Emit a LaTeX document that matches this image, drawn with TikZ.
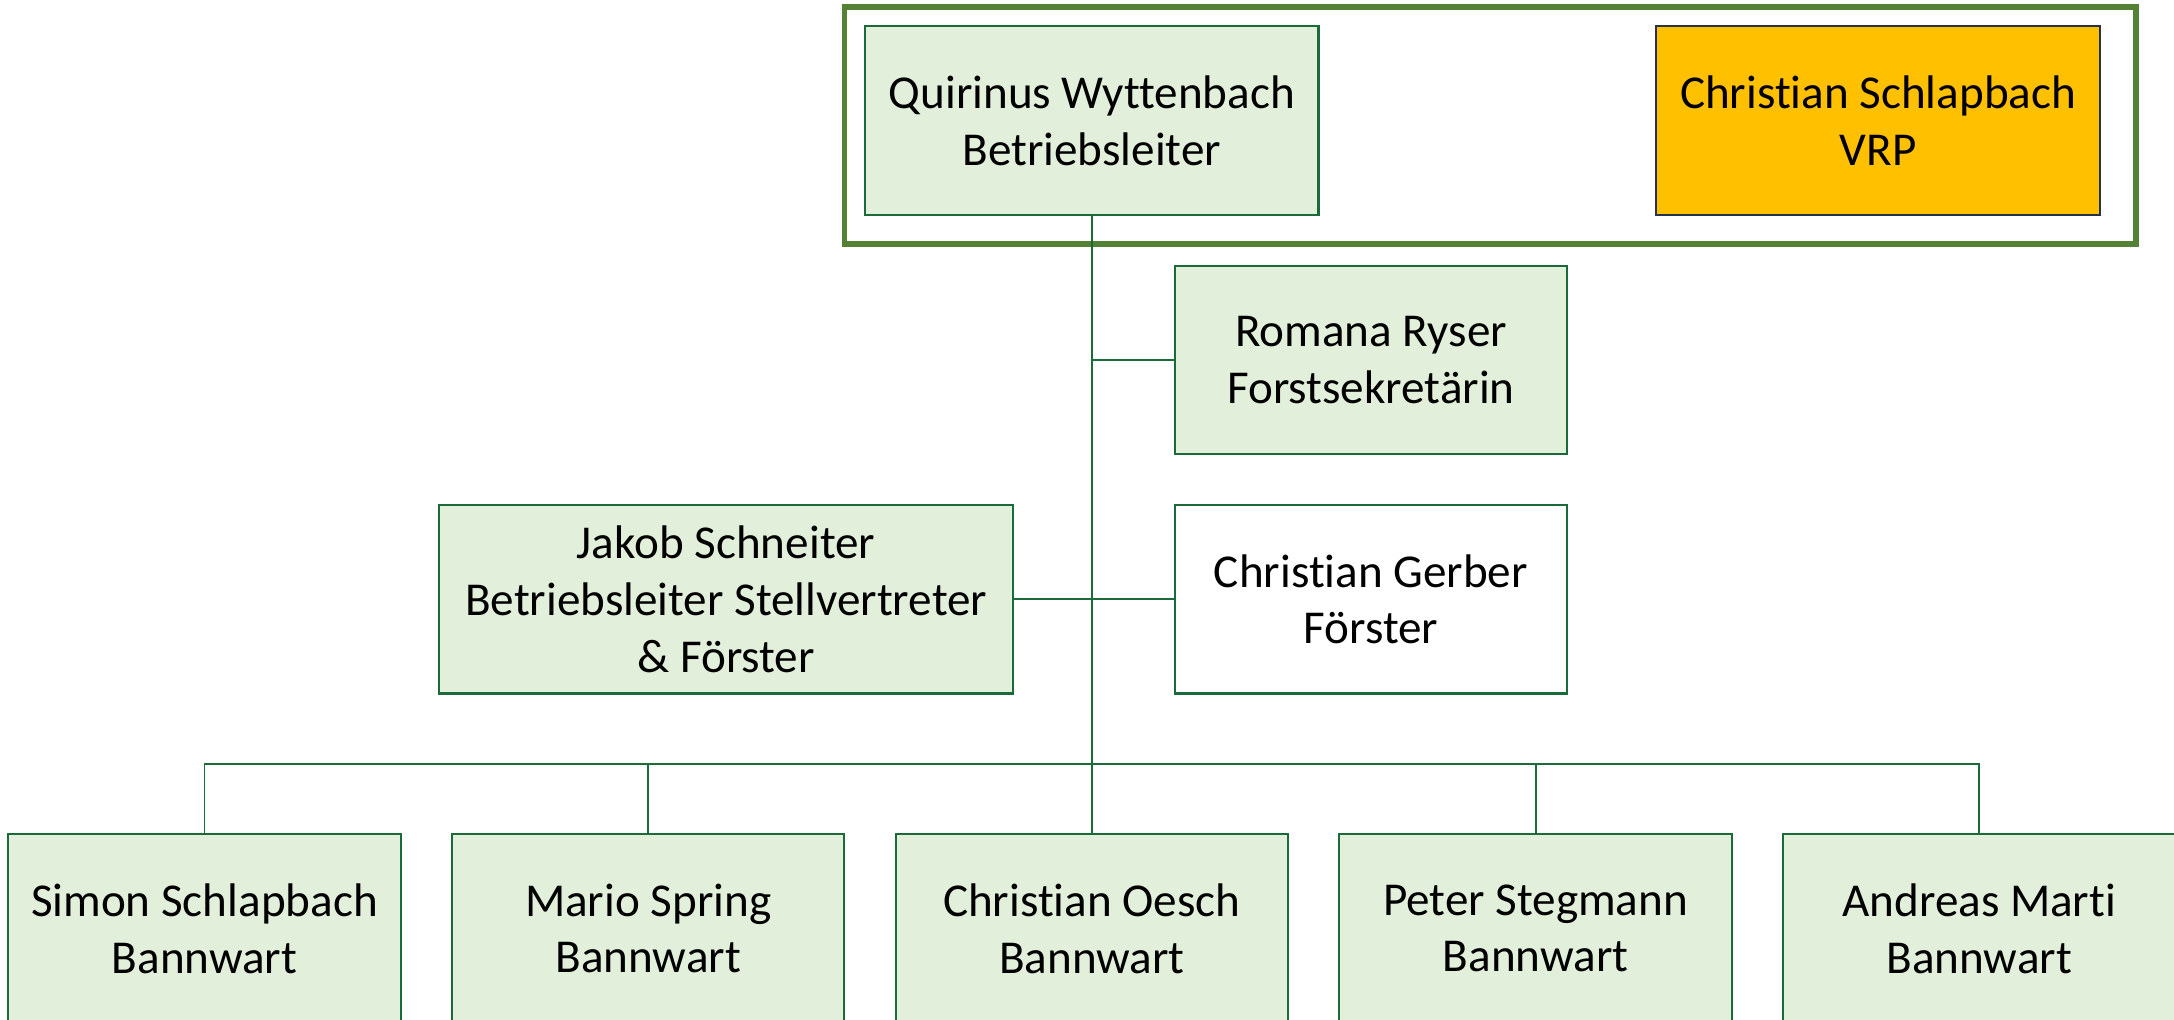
\documentclass[tikz,border=0pt]{standalone}
\usepackage{fontspec}
\setmainfont{Carlito}[Ligatures=NoCommon]
\usetikzlibrary{positioning}
\definecolor{boxfill}{HTML}{E2EFDA}
\definecolor{boxline}{HTML}{1B6B3A}
\definecolor{framegreen}{HTML}{548235}
\definecolor{vrpfill}{HTML}{FFC000}
\definecolor{vrpline}{HTML}{25324D}
\tikzset{
    person/.style={ % Kasten fuer eine Person
        draw=boxline,
        fill=boxfill,
        line width=0.8pt,
        align=center,
        minimum width=141.5pt,
        minimum height=68pt,
        inner sep=2pt,
        font=\fontsize{17}{20.5}\selectfont
    },
    conn/.style={draw=boxline,line width=0.7pt} % Verbindungslinien
}

\begin{document}
\begin{tikzpicture}[x=0.5pt,y=-0.5pt]
        \useasboundingbox (0,0) rectangle (1568,735);
        % Leitung
        \node[person,minimum width=163.5pt] (wyttenbach) at (787.5,87) {Quirinus Wyttenbach\\Betriebsleiter};
        \node[person,fill=vrpfill,draw=vrpline,minimum width=160pt,right=121pt of wyttenbach] (vrp) {Christian Schlapbach\\VRP};
        \draw[framegreen,line width=2pt] ([shift={(-7pt,6.5pt)}]wyttenbach.north west) rectangle ([shift={(12.5pt,-10pt)}]vrp.south east);
        % Stab und Foerster
        \node[person,anchor=north west] (ryser) at ([shift={(29.5pt,-17.5pt)}]wyttenbach.south) {Romana Ryser\\Forstsekretärin};
        \node[person,fill=white,below=17.5pt of ryser] (gerber) {Christian Gerber\\Förster};
        \node[person,minimum width=207pt,left=57.5pt of gerber] (schneiter) {Jakob Schneiter\\Betriebsleiter Stellvertreter\\\& Förster};
        % Bannwarte
        \node[person,below=222.5pt of wyttenbach] (oesch) {Christian Oesch\\Bannwart};
        \node[person,left=17.7pt of oesch] (spring) {Mario Spring\\Bannwart};
        \node[person,left=17.7pt of spring] (simon) {Simon Schlapbach\\Bannwart};
        \node[person,right=17.7pt of oesch] (stegmann) {Peter Stegmann\\Bannwart};
        \node[person,right=17.7pt of stegmann] (marti) {Andreas Marti\\Bannwart};
        
        \draw[conn] (wyttenbach.south) -- (oesch.north);
        \draw[conn] (ryser.west) -- (ryser.west -| wyttenbach.south);
        \draw[conn] (schneiter.east) -- (gerber.west);
        \draw[conn] (simon.north) |- ([yshift=25pt]oesch.north) -| (marti.north);
        \draw[conn] (spring.north) -- ++(0pt,25pt);
        \draw[conn] (stegmann.north) -- ++(0pt,25pt);
    \end{tikzpicture}
\end{document}
